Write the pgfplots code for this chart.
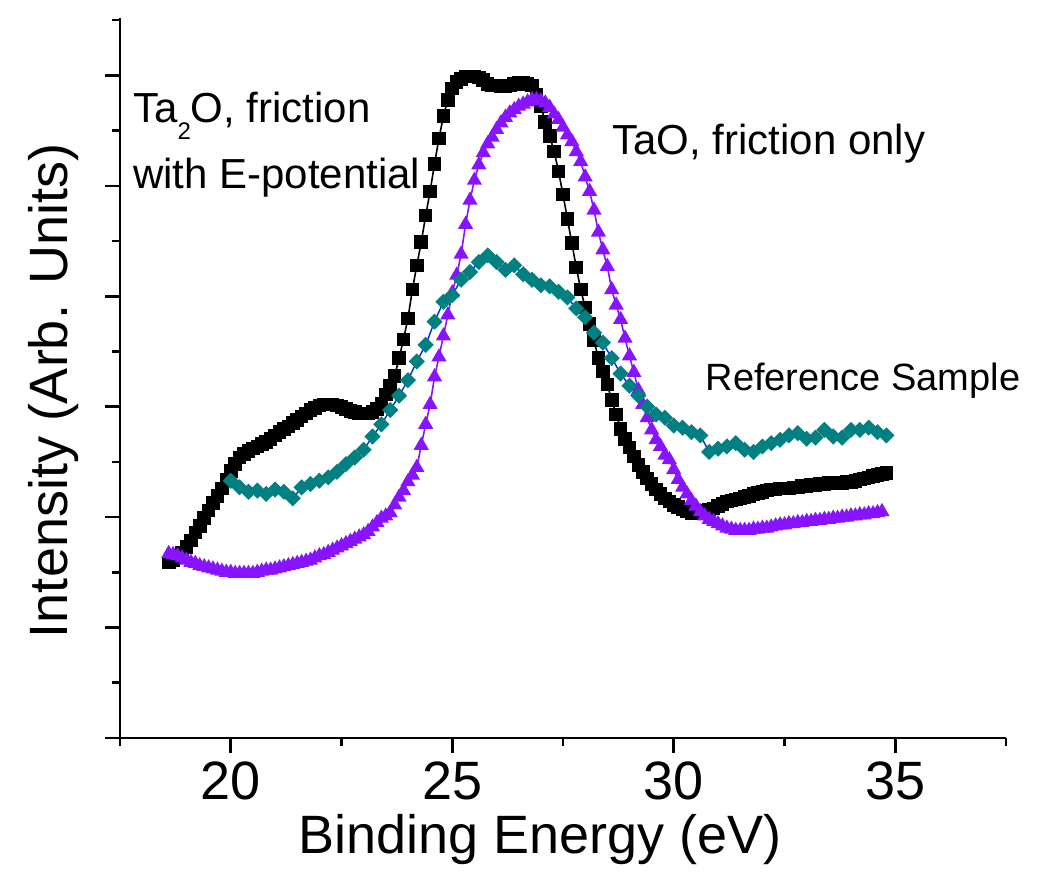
\documentclass[border=0pt]{standalone}
\usepackage{fontspec}
\setmainfont{Liberation Sans}
\usepackage{pgfplots}
\pgfplotsset{compat=1.18}

\definecolor{tao}{RGB}{136,20,255}
\definecolor{refteal}{RGB}{0,128,128}
\definecolor{refline}{RGB}{0,40,230}

% Ta2O, friction with E-potential
\pgfplotstableread{
x y
18.6 1.59
18.7 1.61
18.8 1.64
18.9 1.68
19.0 1.73
19.1 1.79
19.2 1.86
19.3 1.92
19.4 1.99
19.5 2.06
19.6 2.13
19.7 2.19
19.8 2.26
19.9 2.34
20.0 2.42
20.1 2.48
20.2 2.54
20.3 2.57
20.4 2.60
20.5 2.62
20.6 2.64
20.7 2.66
20.8 2.68
20.9 2.71
21.0 2.74
21.1 2.77
21.2 2.80
21.3 2.82
21.4 2.85
21.5 2.88
21.6 2.91
21.7 2.94
21.8 2.97
21.9 2.99
22.0 3.01
22.1 3.02
22.2 3.02
22.3 3.02
22.4 3.01
22.5 3.00
22.6 2.98
22.7 2.96
22.8 2.95
22.9 2.94
23.0 2.94
23.1 2.94
23.2 2.95
23.3 2.98
23.4 3.03
23.5 3.11
23.6 3.19
23.7 3.28
23.8 3.44
23.9 3.61
24.0 3.80
24.1 4.06
24.2 4.28
24.3 4.49
24.4 4.73
24.5 4.95
24.6 5.20
24.7 5.43
24.8 5.63
24.9 5.78
25.0 5.88
25.1 5.94
25.2 5.97
25.3 5.99
25.4 5.99
25.5 5.99
25.6 5.98
25.7 5.96
25.8 5.92
25.9 5.91
26.0 5.91
26.1 5.90
26.2 5.90
26.3 5.91
26.4 5.92
26.5 5.93
26.6 5.93
26.7 5.92
26.8 5.91
26.9 5.82
27.0 5.72
27.1 5.58
27.2 5.45
27.3 5.31
27.4 5.13
27.5 4.92
27.6 4.70
27.7 4.48
27.8 4.26
27.9 4.06
28.0 3.90
28.1 3.75
28.2 3.60
28.3 3.44
28.4 3.32
28.5 3.20
28.6 3.06
28.7 2.93
28.8 2.80
28.9 2.71
29.0 2.63
29.1 2.55
29.2 2.47
29.3 2.41
29.4 2.35
29.5 2.30
29.6 2.25
29.7 2.21
29.8 2.17
29.9 2.14
30.0 2.11
30.1 2.09
30.2 2.07
30.3 2.05
30.4 2.04
30.5 2.04
30.6 2.05
30.7 2.06
30.8 2.07
30.9 2.08
31.0 2.10
31.1 2.12
31.2 2.14
31.3 2.15
31.4 2.16
31.5 2.17
31.6 2.18
31.7 2.19
31.8 2.21
31.9 2.22
32.0 2.23
32.1 2.24
32.2 2.25
32.3 2.25
32.4 2.26
32.5 2.26
32.6 2.26
32.7 2.27
32.8 2.27
32.9 2.28
33.0 2.28
33.1 2.29
33.2 2.29
33.3 2.30
33.4 2.30
33.5 2.31
33.6 2.31
33.7 2.31
33.8 2.31
33.9 2.32
34.0 2.32
34.1 2.33
34.2 2.34
34.3 2.35
34.4 2.36
34.5 2.37
34.6 2.38
34.7 2.39
34.8 2.40
}\tatwoo

% TaO, friction only
\pgfplotstableread{
x y
18.6 1.67
18.7 1.66
18.8 1.65
18.9 1.63
19.0 1.61
19.1 1.59
19.2 1.58
19.3 1.56
19.4 1.55
19.5 1.54
19.6 1.53
19.7 1.52
19.8 1.51
19.9 1.50
20.0 1.50
20.1 1.49
20.2 1.49
20.3 1.49
20.4 1.49
20.5 1.49
20.6 1.50
20.7 1.51
20.8 1.52
20.9 1.52
21.0 1.53
21.1 1.54
21.2 1.55
21.3 1.56
21.4 1.57
21.5 1.58
21.6 1.59
21.7 1.60
21.8 1.61
21.9 1.63
22.0 1.65
22.1 1.66
22.2 1.68
22.3 1.70
22.4 1.72
22.5 1.74
22.6 1.76
22.7 1.78
22.8 1.80
22.9 1.82
23.0 1.84
23.1 1.87
23.2 1.91
23.3 1.95
23.4 1.99
23.5 2.01
23.6 2.04
23.7 2.11
23.8 2.18
23.9 2.24
24.0 2.32
24.1 2.38
24.2 2.45
24.3 2.65
24.4 2.84
24.5 3.02
24.6 3.27
24.7 3.45
24.8 3.64
24.9 3.83
25.0 4.03
25.1 4.19
25.2 4.38
25.3 4.65
25.4 4.87
25.5 5.05
25.6 5.19
25.7 5.30
25.8 5.38
25.9 5.44
26.0 5.51
26.1 5.57
26.2 5.62
26.3 5.66
26.4 5.69
26.5 5.72
26.6 5.74
26.7 5.76
26.8 5.78
26.9 5.78
27.0 5.77
27.1 5.75
27.2 5.71
27.3 5.65
27.4 5.60
27.5 5.53
27.6 5.46
27.7 5.40
27.8 5.31
27.9 5.22
28.0 5.08
28.1 4.95
28.2 4.78
28.3 4.58
28.4 4.42
28.5 4.27
28.6 4.06
28.7 3.92
28.8 3.79
28.9 3.62
29.0 3.46
29.1 3.31
29.2 3.15
29.3 3.02
29.4 2.90
29.5 2.79
29.6 2.70
29.7 2.64
29.8 2.56
29.9 2.52
30.0 2.43
30.1 2.34
30.2 2.27
30.3 2.21
30.4 2.15
30.5 2.10
30.6 2.05
30.7 2.01
30.8 1.98
30.9 1.96
31.0 1.94
31.1 1.92
31.2 1.90
31.3 1.89
31.4 1.88
31.5 1.88
31.6 1.88
31.7 1.88
31.8 1.89
31.9 1.89
32.0 1.90
32.1 1.90
32.2 1.91
32.3 1.92
32.4 1.93
32.5 1.93
32.6 1.94
32.7 1.94
32.8 1.95
32.9 1.95
33.0 1.96
33.1 1.96
33.2 1.97
33.3 1.97
33.4 1.98
33.5 1.98
33.6 1.99
33.7 1.99
33.8 2.00
33.9 2.00
34.0 2.01
34.1 2.01
34.2 2.02
34.3 2.02
34.4 2.03
34.5 2.03
34.6 2.04
34.7 2.05
}\tao

% Reference sample
\pgfplotstableread{
x y
20.0 2.33
20.2 2.27
20.4 2.23
20.6 2.24
20.8 2.21
21.0 2.25
21.2 2.23
21.4 2.17
21.6 2.27
21.8 2.30
22.0 2.33
22.2 2.36
22.4 2.41
22.6 2.48
22.8 2.54
23.0 2.61
23.2 2.73
23.4 2.84
23.6 2.97
23.8 3.10
24.0 3.24
24.2 3.41
24.4 3.56
24.6 3.77
24.8 3.95
25.0 4.01
25.2 4.15
25.4 4.22
25.6 4.31
25.8 4.37
26.0 4.31
26.2 4.24
26.4 4.28
26.6 4.20
26.8 4.15
27.0 4.10
27.2 4.09
27.4 4.04
27.6 3.99
27.8 3.89
28.0 3.81
28.2 3.67
28.4 3.58
28.6 3.44
28.8 3.30
29.0 3.19
29.2 3.10
29.4 3.00
29.6 2.93
29.8 2.90
30.0 2.83
30.2 2.81
30.4 2.77
30.6 2.74
30.8 2.59
31.0 2.62
31.2 2.64
31.4 2.67
31.6 2.61
31.8 2.59
32.0 2.64
32.2 2.67
32.4 2.70
32.6 2.74
32.8 2.76
33.0 2.71
33.2 2.72
33.4 2.79
33.6 2.73
33.8 2.72
34.0 2.79
34.2 2.79
34.4 2.81
34.6 2.77
34.8 2.74
}\refsample

\begin{document}
\begin{tikzpicture}
\begin{axis}[
  scale only axis,
  width=443pt, height=360pt,
  xmin=17.5, xmax=37.5, ymin=0, ymax=6.52,
  axis x line*=bottom, axis y line*=left,
  axis line style={line width=1.3pt},
  xtick={20,25,30,35},
  minor xtick={17.5,22.5,27.5,32.5,37.5},
  ytick={0,1,2,3,4,5,6},
  minor ytick={0.5,1.5,2.5,3.5,4.5,5.5,6.5},
  yticklabels={},
  tick align=outside,
  major tick length=7.5pt, minor tick length=4pt,
  every tick/.style={black, line width=1.3pt},
  tick label style={font=\fontsize{27pt}{27pt}\selectfont},
  /pgf/number format/assume math mode=true,
  xticklabel style={inner sep=0pt, yshift=-4pt},
  xlabel={Binding Energy (eV)},
  ylabel={Intensity (Arb. Units)},
  label style={font=\fontsize{27pt}{30pt}\selectfont, inner sep=0pt},
  xlabel style={at={(axis description cs:0.474,-0.161)}, anchor=base},
  ylabel style={at={(axis description cs:-0.0587,0.482)}, anchor=base},
  clip=false,
]
\addplot[black, line width=0.8pt, mark=square*, mark size=3pt,
  mark options={solid, fill=black, draw=black}] table[x=x,y=y] {\tatwoo};
\addplot[tao, line width=0.8pt, mark=triangle*, mark size=3.6pt,
  mark options={solid, fill=tao, draw=tao}] table[x=x,y=y] {\tao};
\addplot[refline, line width=0.7pt, mark=square*, mark size=2.5pt,
  mark options={solid, rotate=45, fill=refteal, draw=refteal}] table[x=x,y=y] {\refsample};

\node[anchor=base west, inner sep=0pt, font=\fontsize{21pt}{22pt}\selectfont]
  at (axis cs:17.79,5.57) {Ta\raisebox{-8.5pt}{\fontsize{12pt}{12pt}\selectfont 2}O, friction};
\node[anchor=base west, inner sep=0pt, font=\fontsize{21pt}{22pt}\selectfont]
  at (axis cs:17.79,4.98) {with E-potential};
\node[anchor=base west, inner sep=0pt, font=\fontsize{21pt}{22pt}\selectfont]
  at (axis cs:28.61,5.28) {TaO, friction only};
\node[anchor=base west, inner sep=0pt, font=\fontsize{19pt}{22pt}\selectfont]
  at (axis cs:30.71,3.15) {Reference Sample};
\end{axis}
\pgfresetboundingbox
\path (-60pt,-68pt) rectangle (469.5pt,369pt);
\end{tikzpicture}
\end{document}
